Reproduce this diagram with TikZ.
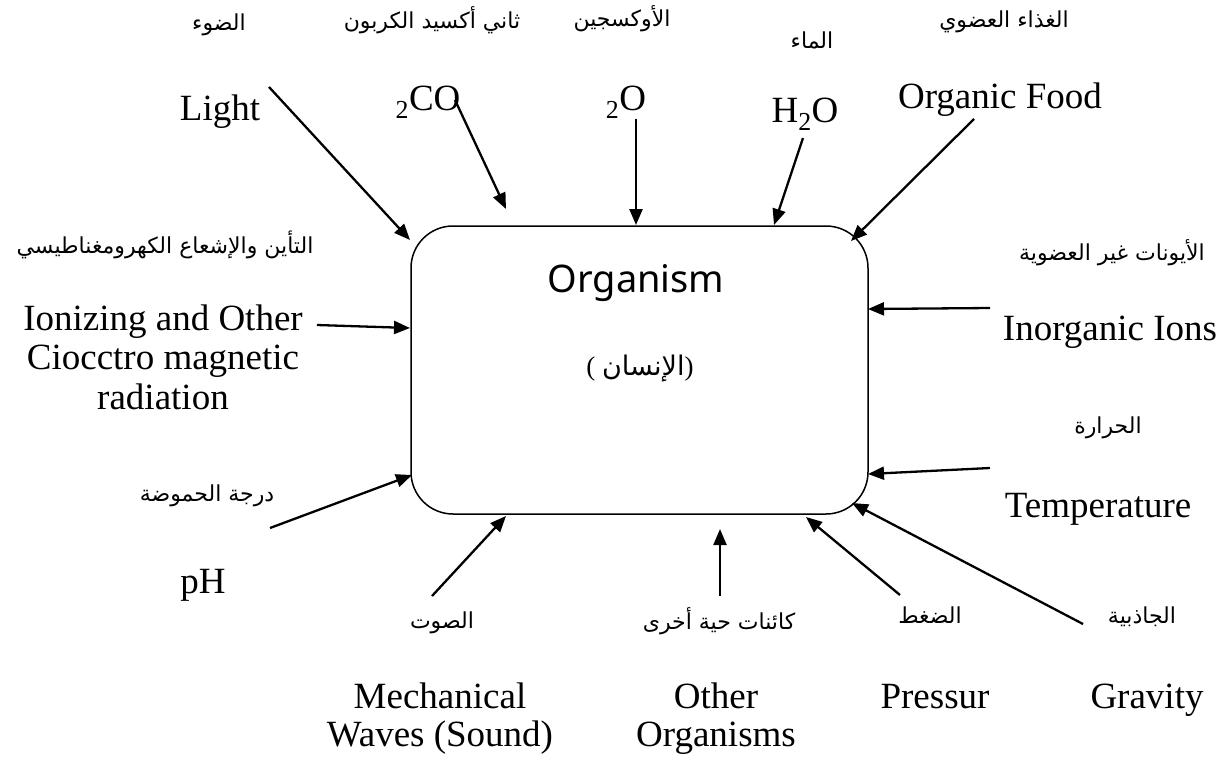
\documentclass[tikz,border=0pt]{standalone}
\usepackage{fontspec}
\setmainfont{Liberation Serif}
\newfontfamily\arabicfont[Script=Arabic]{DejaVu Sans}
\newfontfamily\orgfont{Noto Sans}
\TeXXeTstate=1
\usetikzlibrary{arrows.meta}
\tikzset{
  en/.style={font=\fontsize{37}{38}\selectfont, inner sep=0pt, align=center},
  enb/.style={en, anchor=base},
  ar/.style={font=\arabicfont\fontsize{22}{26}\selectfont, inner sep=0pt},
  inarrow/.style={line width=2.3pt, -{Triangle[length=16pt,width=13pt]}},
  orgbox/.style={draw, line width=1.5pt, rounded corners=42pt, minimum width=457pt, minimum height=288pt, inner sep=0pt}
}
\begin{document}
\begin{tikzpicture}[x=1pt,y=-1pt]
\useasboundingbox (0,0) rectangle (1226,764);

% central box
\node[orgbox] (org) at (639.5,370) {};
\node[inner sep=0pt, anchor=base, font=\orgfont\fontsize{38}{42}\selectfont] (orgname) at (636,292) {Organism};
\node[inner sep=0pt, font=\fontsize{27}{30}\selectfont] (orgar) at (640,369) {(\ {\arabicfont\beginR الإنسان\endR})};

% Arabic labels
\node[ar] (arLight) at (219,25) {\beginR الضوء\endR};
\node[ar] (arCO) at (432,20) {\beginR ثاني أكسيد الكربون\endR};
\node[ar] (arO) at (622,19) {\beginR الأوكسجين\endR};
\node[ar] (arH) at (812,40) {\beginR الماء\endR};
\node[ar] (arFood) at (1004,22) {\beginR الغذاء العضوي\endR};
\node[ar] (arIon) at (165,245) {\beginR التأين والإشعاع الكهرومغناطيسي\endR};
\node[ar] (arInorg) at (1112,253) {\beginR الأيونات غير العضوية\endR};
\node[ar] (arTemp) at (1108,428) {\beginR الحرارة\endR};
\node[ar] (arPH) at (207,496) {\beginR درجة الحموضة\endR};
\node[ar] (arSound) at (442,623) {\beginR الصوت\endR};
\node[ar] (arOther) at (719,621) {\beginR كائنات حية أخرى\endR};
\node[ar] (arPress) at (930,615) {\beginR الضغط\endR};
\node[ar] (arGrav) at (1142,617) {\beginR الجاذبية\endR};

% English labels
\node[enb] (light) at (220,120) {Light};
\node[enb] (co) at (428,110) {\textsubscript{2}CO};
\node[enb] (o) at (626,110) {\textsubscript{2}O};
\node[enb] (h) at (805,122) {H\textsubscript{2}O};
\node[enb] (food) at (1000,108) {Organic Food};
\node[en, font=\fontsize{37}{39.5}\selectfont] (ion) at (163,357) {Ionizing and Other\\Ciocctro magnetic\\radiation};
\node[enb] (inorg) at (1110,340) {Inorganic Ions};
\node[enb] (temp) at (1098,517) {Temperature};
\node[enb] (ph) at (203,593) {pH};
\node[en] (mech) at (440,719) {Mechanical\\Waves (Sound)};
\node[en] (other) at (716,719) {Other\\Organisms};
\node[enb] (press) at (935,708) {Pressur};
\node[enb] (grav) at (1147,708) {Gravity};

% arrow end points
\coordinate (sLight) at (269,87);   \coordinate (tLight) at (410,240);
\coordinate (sCO) at (455,100);     \coordinate (tCO) at (506,209);
\coordinate (sO) at (636,119);      \coordinate (tO) at (636,225);
\coordinate (sH) at (803,138);      \coordinate (tH) at (774,225);
\coordinate (sFood) at (974,119);   \coordinate (tFood) at (851,241);
\coordinate (sIon) at (317,325);    \coordinate (tIon) at (410,328);
\coordinate (sPH) at (270,528);     \coordinate (tPH) at (412,475);
\coordinate (sSound) at (432,596);  \coordinate (tSound) at (506,516);
\coordinate (sOther) at (720,596);  \coordinate (tOther) at (720,529);
\coordinate (sPress) at (900,595);  \coordinate (tPress) at (806,517);
\coordinate (sGrav) at (1083,624);  \coordinate (tGrav) at (852,503);
\coordinate (sTemp) at (990,468);   \coordinate (tTemp) at (868,474);
\coordinate (sInorg) at (990,308);  \coordinate (tInorg) at (868,309);

\foreach \n in {Light,CO,O,H,Food,Ion,PH,Sound,Other,Press,Grav,Temp,Inorg}
  \draw[inarrow] (s\n) -- (t\n);
\end{tikzpicture}
\end{document}
